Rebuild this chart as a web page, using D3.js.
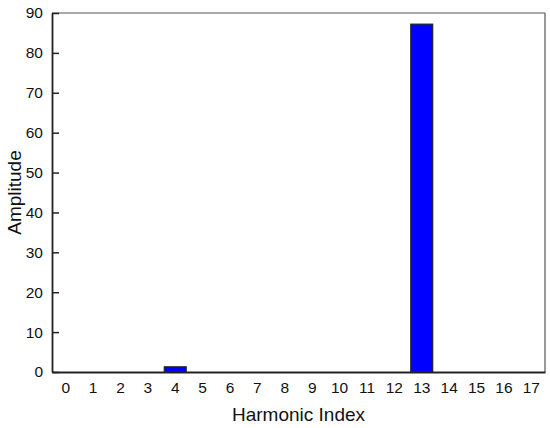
<!DOCTYPE html>
<html>
<head>
<meta charset="utf-8">
<script src="https://cdn.jsdelivr.net/npm/d3@7"></script>
<style>
  body { margin: 0; background: #fff; }
  text { font-family: Arial, "Liberation Sans", sans-serif; }
</style>
</head>
<body>
<div class="graph"></div>
<script>
const harmonics = d3.range(0, 18);
const amplitudes = [0, 0, 0, 0, 1.3, 0, 0, 0, 0, 0, 0, 0, 0, 87.2, 0, 0, 0, 0];
const yTicks = [0, 10, 20, 30, 40, 50, 60, 70, 80, 90];

const width = 550, height = 428;
const margin = { left: 52, right: 5, top: 13, bottom: 56 };
const plotW = width - margin.left - margin.right;
const plotH = height - margin.top - margin.bottom;

const svg = d3.select(".graph")
    .append("svg")
    .attr("width", width)
    .attr("height", height);

const g = svg.append("g")
    .attr("transform", `translate(${margin.left},${margin.top})`);

const x = d3.scaleBand()
    .domain(harmonics)
    .range([0, plotW])
    .paddingInner(0.2)
    .paddingOuter(0.1);

const y = d3.scaleLinear()
    .domain([0, 90])
    .range([plotH, 0]);

// frame (top/right lighter)
g.append("line").attr("x1", 0).attr("x2", plotW).attr("y1", 0).attr("y2", 0)
    .attr("stroke", "#555").attr("stroke-width", 1.2);
g.append("line").attr("x1", plotW).attr("x2", plotW).attr("y1", 0).attr("y2", plotH)
    .attr("stroke", "#555").attr("stroke-width", 1.2);

// bars
g.selectAll("rect.bar")
    .data(harmonics.map((h, i) => ({ h, v: amplitudes[i] })).filter(d => d.v > 0))
    .enter()
    .append("rect")
    .attr("class", "bar")
    .attr("x", d => x(d.h))
    .attr("y", d => y(d.v))
    .attr("width", x.bandwidth())
    .attr("height", d => plotH - y(d.v))
    .attr("fill", "#0000ff")
    .attr("stroke", "#222")
    .attr("stroke-width", 1.2);

// y axis
const yAxis = g.append("g")
    .call(d3.axisLeft(y).tickValues(yTicks).tickSizeInner(-7).tickSizeOuter(0).tickPadding(9));
yAxis.select(".domain").attr("stroke", "#222").attr("stroke-width", 1.8);
yAxis.selectAll(".tick line").attr("stroke", "#222").attr("stroke-width", 1.5);
yAxis.selectAll(".tick text").attr("font-size", 15.5).attr("fill", "#111").attr("font-family", "Arial");

// x axis
const xAxis = g.append("g")
    .attr("transform", `translate(0,${plotH})`)
    .call(d3.axisBottom(x).tickSize(0).tickPadding(10));
xAxis.select(".domain").attr("stroke", "#222").attr("stroke-width", 1.8);
xAxis.selectAll(".tick text").attr("font-size", 15.5).attr("fill", "#111").attr("font-family", "Arial");

// titles
svg.append("text")
    .attr("x", margin.left + plotW / 2)
    .attr("y", 421)
    .attr("text-anchor", "middle")
    .attr("font-size", 19)
    .attr("fill", "#111")
    .text("Harmonic Index");

svg.append("text")
    .attr("transform", `translate(21,${margin.top + plotH / 2}) rotate(-90)`)
    .attr("text-anchor", "middle")
    .attr("font-size", 19)
    .attr("fill", "#111")
    .text("Amplitude");
</script>
</body>
</html>
